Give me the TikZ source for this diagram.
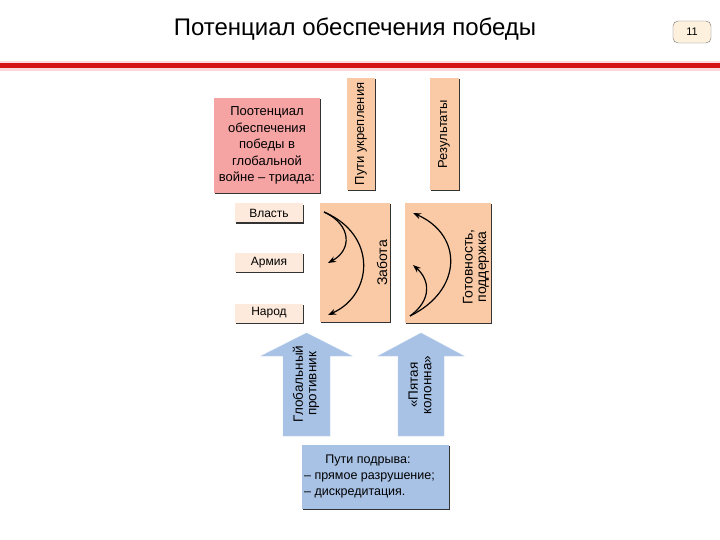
\documentclass[tikz,border=0pt]{standalone}
\usepackage{fontspec}
\setmainfont{Liberation Sans}
\usetikzlibrary{shadows,arrows.meta}
\definecolor{pinkf}{HTML}{F6A3A3}
\definecolor{tanf}{HTML}{F9CAA5}
\definecolor{peachf}{HTML}{FDEADC}
\definecolor{bluef}{HTML}{A8C2E6}
\definecolor{redl}{HTML}{D41414}
\definecolor{creamf}{HTML}{FDF1DE}
\tikzset{
  sbox/.style={rectangle, inner sep=0pt, draw=none, font=\fontsize{12}{16.5}\selectfont, align=center,
     drop shadow={shadow xshift=1.3pt, shadow yshift=-1.3pt, opacity=1, fill=black!80}},
  txt/.style={inner sep=0pt, font=\fontsize{12.5}{14}\selectfont, align=center},
  bigtxt/.style={txt, font=\fontsize{13.5}{13.5}\selectfont},
  arc/.style={line width=1.2pt, -{Stealth[length=8pt,width=6pt]}},
  bigarrow/.style={fill=bluef, draw=bluef!80!white}
}
\begin{document}
\begin{tikzpicture}[x=1pt,y=-1pt]
\useasboundingbox (0,0) rectangle (720,540);
\fill[white] (0,0) rectangle (720,540);
% header
\node[inner sep=0pt, font=\fontsize{24}{26}\selectfont] (title) at (355,29) {Потенциал обеспечения победы};
\node[draw=black!55, fill=creamf, rounded corners=5pt, minimum width=38pt, minimum height=22pt, inner sep=0pt, font=\fontsize{11}{12}\selectfont] (num) at (692,32) {11};
\fill[red!15] (0,61) rectangle (720,71);
\fill[redl] (0,63) rectangle (720,68.5);
% top boxes
\node[sbox, fill=pinkf, minimum width=106pt, minimum height=95pt, font=\fontsize{13}{16.5}\selectfont] (triad) at (267,145.5) {Поотенциал\\обеспечения\\победы в\\глобальной\\войне – триада:};
\node[sbox, fill=tanf, minimum width=28pt, minimum height=112pt] (ways) at (361,134) {};
\node[bigtxt, font=\fontsize{13}{14}\selectfont, rotate=90] (waysT) at (ways) {Пути укрепления};
\node[sbox, fill=tanf, minimum width=29pt, minimum height=112pt] (res) at (444,134) {};
\node[bigtxt, font=\fontsize{13}{14}\selectfont, rotate=90] (resT) at (res) {Результаты};
% triad boxes
\node[sbox, fill=peachf, minimum width=68pt, minimum height=19pt] (vlast) at (269,213) {Власть};
\node[sbox, fill=peachf, minimum width=68pt, minimum height=19pt] (army) at (269,262.5) {Армия};
\node[sbox, fill=peachf, minimum width=68pt, minimum height=19pt] (narod) at (269,313) {Народ};
% tan boxes
\node[sbox, fill=tanf, minimum width=70pt, minimum height=119pt] (care) at (355,262.5) {};
\node[bigtxt, font=\fontsize{14}{14}\selectfont, rotate=90] (careT) at (382,263) {Забота};
\node[sbox, fill=tanf, minimum width=86pt, minimum height=120pt] (ready) at (448,263) {};
\node[bigtxt, font=\fontsize{14}{13.5}\selectfont, rotate=90] (readyT) at (476,267) {Готовность,\\поддержка};
% arcs left
\coordinate (l0) at (324,212);
\coordinate (l1) at (328,315);
\coordinate (l2) at (328,263);
\draw[arc] (l0) .. controls (378,235) and (373,295) .. (l1);
\draw[arc] (l0) .. controls (352,225) and (352,250) .. (l2);
% arcs right
\coordinate (r0) at (410,316);
\coordinate (r1) at (413,213);
\coordinate (r2) at (413,265);
\draw[arc] (r0) .. controls (463,290) and (463,235) .. (r1);
\draw[arc] (r0) .. controls (432,300) and (430,280) .. (r2);
% big arrows
\path[bigarrow] (306.5,333) -- (352,356) -- (330,356) -- (330,436) -- (283,436) -- (283,356) -- (261,356) -- cycle;
\node[bigtxt, rotate=90] (enemy) at (306,384) {Глобальный\\противник};
\path[bigarrow] (421,333) -- (464,356) -- (444,356) -- (444,436) -- (398,436) -- (398,356) -- (378,356) -- cycle;
\node[bigtxt, rotate=90] (fifth) at (420,385) {«Пятая\\колонна»};
% bottom box
\node[sbox, fill=bluef, minimum width=147pt, minimum height=64pt] (under) at (375.5,477) {};
\node[txt, anchor=center] (underT) at (368,460) {Пути подрыва:};
\node[txt, anchor=west] (under1) at (304,477) {– прямое разрушение;};
\node[txt, anchor=west] (under2) at (304,493) {– дискредитация.};
\end{tikzpicture}
\end{document}
